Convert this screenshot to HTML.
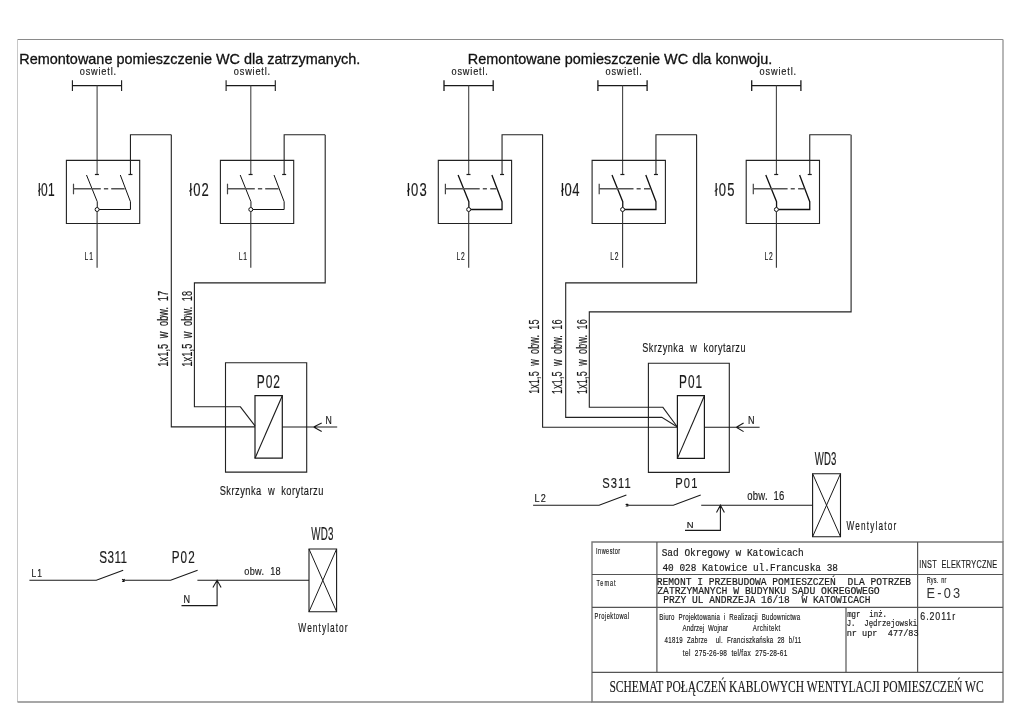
<!DOCTYPE html>
<html><head><meta charset="utf-8">
<style>
html,body{margin:0;padding:0;background:#fff;width:1024px;height:724px;overflow:hidden}
svg{display:block}
svg{filter:grayscale(1)}
.ln{stroke:#222;stroke-width:1;fill:none}
.f_hd{font-family:"Liberation Sans",sans-serif;fill:#111;stroke:#111;stroke-width:0.3px}
.f_cad{font-family:"Liberation Sans",sans-serif;fill:#1a1a1a;stroke:#1a1a1a;stroke-width:0.18px}
.f_mono{font-family:"Liberation Mono",monospace;fill:#1a1a1a;stroke:#1a1a1a;stroke-width:0.2px}
.f_serif{font-family:"Liberation Serif",serif;fill:#1a1a1a;stroke:#1a1a1a;stroke-width:0.15px}
</style></head><body>
<svg width="1024" height="724" viewBox="0 0 1024 724">
<path d="M17.5 39.5H1003" stroke="#8a8a8a" stroke-width="1.2" fill="none" />
<path d="M17.5 39.5V702" stroke="#c8c8c8" stroke-width="1.0" fill="none" />
<path d="M1003 39.5V542" stroke="#999" stroke-width="1.4" fill="none" />
<path d="M17.5 702H592" stroke="#8a8a8a" stroke-width="1.3" fill="none" />
<path d="M72.40 85.6H121.60M72.40 80.3V91M121.60 80.3V91" stroke="#1a1a1a" stroke-width="1.1" fill="none" />
<path d="M97.10 85.6V174.5" stroke="#444" stroke-width="1.1" fill="none" />
<path d="M94.90 174.5H98.90" stroke="#1a1a1a" stroke-width="1.2" fill="none" />
<path d="M130.45 174.5V134.7H171.30" stroke="#222" stroke-width="1.1" fill="none" />
<path d="M128.45 174.5H132.45" stroke="#1a1a1a" stroke-width="1.2" fill="none" />
<path d="M66.40 160.4H139.70V223.5H66.40Z" stroke="#222" stroke-width="1.1" fill="none" />
<path d="M86.50 175L97.25 201.7V207.5" stroke="#111" stroke-width="1.0" fill="none" />
<path d="M120.30 175L130.45 201.7V209.5H99.10" stroke="#111" stroke-width="1.0" fill="none" />
<circle cx="97.10" cy="209.5" r="2" stroke="#111" stroke-width="1" fill="#fff"/>
<path d="M73.50 183.7V194.3" stroke="#444" stroke-width="1.2" fill="none" />
<path d="M73.50 188.8H100.80M103.90 188.8H108.20M111.20 188.8H124.60" stroke="#555" stroke-width="1.5" fill="none" />
<path d="M97.10 211.5V267.8" stroke="#333" stroke-width="1.1" fill="none" />
<path d="M226.10 85.6H275.30M226.10 80.3V91M275.30 80.3V91" stroke="#1a1a1a" stroke-width="1.1" fill="none" />
<path d="M250.80 85.6V174.5" stroke="#444" stroke-width="1.1" fill="none" />
<path d="M248.60 174.5H252.60" stroke="#1a1a1a" stroke-width="1.2" fill="none" />
<path d="M284.15 174.5V134.7H325.00" stroke="#222" stroke-width="1.1" fill="none" />
<path d="M282.15 174.5H286.15" stroke="#1a1a1a" stroke-width="1.2" fill="none" />
<path d="M220.40 160.4H293.70V223.5H220.40Z" stroke="#222" stroke-width="1.1" fill="none" />
<path d="M240.20 175L250.95 201.7V207.5" stroke="#111" stroke-width="1.0" fill="none" />
<path d="M274.00 175L284.15 201.7V209.5H252.80" stroke="#111" stroke-width="1.0" fill="none" />
<circle cx="250.80" cy="209.5" r="2" stroke="#111" stroke-width="1" fill="#fff"/>
<path d="M227.50 183.7V194.3" stroke="#444" stroke-width="1.2" fill="none" />
<path d="M227.50 188.8H254.80M257.90 188.8H262.20M265.20 188.8H278.60" stroke="#555" stroke-width="1.5" fill="none" />
<path d="M250.80 211.5V267.8" stroke="#333" stroke-width="1.1" fill="none" />
<path d="M444.00 85.6H493.20M444.00 80.3V91M493.20 80.3V91" stroke="#1a1a1a" stroke-width="1.3" fill="none" />
<path d="M468.70 85.6V174.5" stroke="#444" stroke-width="1.1" fill="none" />
<path d="M466.50 174.5H470.50" stroke="#1a1a1a" stroke-width="1.2" fill="none" />
<path d="M502.05 174.5V134.7H542.90" stroke="#222" stroke-width="1.1" fill="none" />
<path d="M500.05 174.5H504.05" stroke="#1a1a1a" stroke-width="1.2" fill="none" />
<path d="M438.30 160.4H511.60V223.5H438.30Z" stroke="#222" stroke-width="1.1" fill="none" />
<path d="M458.10 175L468.85 201.7V207.5" stroke="#111" stroke-width="1.3" fill="none" />
<path d="M491.90 175L502.05 201.7V209.5H470.70" stroke="#111" stroke-width="1.3" fill="none" />
<circle cx="468.70" cy="209.5" r="2" stroke="#111" stroke-width="1" fill="#fff"/>
<path d="M445.40 183.7V194.3" stroke="#444" stroke-width="1.2" fill="none" />
<path d="M445.40 188.8H479.70M482.80 188.8H486.90M490.20 188.8H496.50" stroke="#555" stroke-width="1.5" fill="none" />
<path d="M468.70 211.5V267.8" stroke="#333" stroke-width="1.1" fill="none" />
<path d="M597.90 85.6H647.10M597.90 80.3V91M647.10 80.3V91" stroke="#1a1a1a" stroke-width="1.3" fill="none" />
<path d="M622.60 85.6V174.5" stroke="#444" stroke-width="1.1" fill="none" />
<path d="M620.40 174.5H624.40" stroke="#1a1a1a" stroke-width="1.2" fill="none" />
<path d="M655.95 174.5V134.7H696.80" stroke="#222" stroke-width="1.1" fill="none" />
<path d="M653.95 174.5H657.95" stroke="#1a1a1a" stroke-width="1.2" fill="none" />
<path d="M592.10 160.4H665.40V223.5H592.10Z" stroke="#222" stroke-width="1.1" fill="none" />
<path d="M612.00 175L622.75 201.7V207.5" stroke="#111" stroke-width="1.3" fill="none" />
<path d="M645.80 175L655.95 201.7V209.5H624.60" stroke="#111" stroke-width="1.3" fill="none" />
<circle cx="622.60" cy="209.5" r="2" stroke="#111" stroke-width="1" fill="#fff"/>
<path d="M599.20 183.7V194.3" stroke="#444" stroke-width="1.2" fill="none" />
<path d="M599.20 188.8H633.50M636.60 188.8H640.70M644.00 188.8H650.30" stroke="#555" stroke-width="1.5" fill="none" />
<path d="M622.60 211.5V267.8" stroke="#333" stroke-width="1.1" fill="none" />
<path d="M751.70 85.6H800.90M751.70 80.3V91M800.90 80.3V91" stroke="#1a1a1a" stroke-width="1.3" fill="none" />
<path d="M776.40 85.6V174.5" stroke="#444" stroke-width="1.1" fill="none" />
<path d="M774.20 174.5H778.20" stroke="#1a1a1a" stroke-width="1.2" fill="none" />
<path d="M809.75 174.5V134.7H850.60" stroke="#222" stroke-width="1.1" fill="none" />
<path d="M807.75 174.5H811.75" stroke="#1a1a1a" stroke-width="1.2" fill="none" />
<path d="M746.20 160.4H819.50V223.5H746.20Z" stroke="#222" stroke-width="1.1" fill="none" />
<path d="M765.80 175L776.55 201.7V207.5" stroke="#111" stroke-width="1.3" fill="none" />
<path d="M799.60 175L809.75 201.7V209.5H778.40" stroke="#111" stroke-width="1.3" fill="none" />
<circle cx="776.40" cy="209.5" r="2" stroke="#111" stroke-width="1" fill="#fff"/>
<path d="M753.30 183.7V194.3" stroke="#444" stroke-width="1.2" fill="none" />
<path d="M753.30 188.8H787.60M790.70 188.8H794.80M798.10 188.8H804.40" stroke="#555" stroke-width="1.5" fill="none" />
<path d="M776.40 211.5V267.8" stroke="#333" stroke-width="1.1" fill="none" />
<path d="M171.3 134.7V426.9H255" stroke="#222" stroke-width="1.1" fill="none" />
<path d="M325.2 134.7V282.9H194.4V406.8H240.4L255 425.8" stroke="#222" stroke-width="1.1" fill="none" />
<path d="M542.6 134.7V427.3H677.4" stroke="#222" stroke-width="1.1" fill="none" />
<path d="M696.6 134.7V282.9H565.7V417.4H661.8L677.4 427" stroke="#222" stroke-width="1.1" fill="none" />
<path d="M851.1 134.7V311.9H589.3V407.3H662.9L677.4 427" stroke="#222" stroke-width="1.1" fill="none" />
<path d="M225.5 362.8H306.7V472.1H225.5Z" stroke="#222" stroke-width="1.1" fill="none" />
<path d="M255 395.7H282.3V458.2H255Z" stroke="#1a1a1a" stroke-width="1.2" fill="none" />
<path d="M255 458.2L282.3 395.7" stroke="#1a1a1a" stroke-width="1.1" fill="none" />
<path d="M282.3 427H337.2M321.7 423.1L313.6 427L321.7 431.4" stroke="#1a1a1a" stroke-width="1.1" fill="none" />
<path d="M648.4 363.2H729.3V472.4H648.4Z" stroke="#222" stroke-width="1.1" fill="none" />
<path d="M677.4 395.7H704.4V458.4H677.4Z" stroke="#1a1a1a" stroke-width="1.2" fill="none" />
<path d="M677.4 458.4L704.4 395.7" stroke="#1a1a1a" stroke-width="1.1" fill="none" />
<path d="M704.4 427.3H759.6M743.6 423.1L736.3 427.3L743.6 431.6" stroke="#1a1a1a" stroke-width="1.1" fill="none" />
<path d="M29.4 580.3H96.3L123.2 570.2M123.4 580.3H170.6L197.6 570.2M197.4 580.3H309" stroke="#1a1a1a" stroke-width="1.1" fill="none" />
<path d="M122.2 579.1L124.6 581.5M124.6 579.1L122.2 581.5" stroke="#111" stroke-width="1.3" fill="none" />
<path d="M217.1 580.3V605.6H181.5M212.9 587.6L217.1 580.3L221.1 587.6" stroke="#1a1a1a" stroke-width="1.1" fill="none" />
<path d="M309 549H336.6V611.7H309Z" stroke="#1a1a1a" stroke-width="1.1" fill="none" />
<path d="M309 549L336.6 611.7M336.6 549L309 611.7" stroke="#1a1a1a" stroke-width="1.0" fill="none" />
<path d="M533.1 505.2H599.1L626.4 495.1M627 505.2H673.3L700.7 495.1M701.2 505.2H812.6" stroke="#1a1a1a" stroke-width="1.1" fill="none" />
<path d="M625.8 504L628.2 506.4M628.2 504L625.8 506.4" stroke="#111" stroke-width="1.3" fill="none" />
<path d="M720.4 505.2V530.4H685M716.5 512.6L720.4 505.2L724.4 512.6" stroke="#1a1a1a" stroke-width="1.1" fill="none" />
<path d="M812.6 473.7H840.5V536.7H812.6Z" stroke="#1a1a1a" stroke-width="1.1" fill="none" />
<path d="M812.6 473.7L840.5 536.7M840.5 473.7L812.6 536.7" stroke="#1a1a1a" stroke-width="1.0" fill="none" />
<path d="M592 542H1003V702H592Z" stroke="#777" stroke-width="1.4" fill="none" />
<path d="M592 574.5H1003M592 607.3H1003M592 672.3H1003" stroke="#555" stroke-width="1.2" fill="none" />
<path d="M656.9 542V672.3M917.6 542V672.3M846 607.3V672.3" stroke="#555" stroke-width="1.2" fill="none" />
<text id="h1" class="f_hd" style="" x="19.30" y="63.50" font-size="14.33" textLength="341.09" lengthAdjust="spacingAndGlyphs" xml:space="preserve">Remontowane pomieszczenie WC dla zatrzymanych.</text>
<text id="h2" class="f_hd" style="" x="467.72" y="63.50" font-size="14.33" textLength="304.59" lengthAdjust="spacingAndGlyphs" xml:space="preserve">Remontowane pomieszczenie WC dla konwoju.</text>
<text id="osw0" class="f_cad" style="" transform="translate(79.73 74.80) scale(0.900 1)" x="0" y="0" font-size="10.21" textLength="40.38" lengthAdjust="spacing" xml:space="preserve">oswietl.</text>
<text id="lab0" class="f_cad" style="" transform="translate(37.90 196.00) scale(0.625 1)" x="0" y="0" font-size="19.19" textLength="26.89" lengthAdjust="spacing" xml:space="preserve">ł01</text>
<text id="L0" class="f_cad" style="" transform="translate(84.54 260.20) scale(0.631 1)" x="0" y="0" font-size="10.61" textLength="13.25" lengthAdjust="spacing" xml:space="preserve">L1</text>
<text id="osw1" class="f_cad" style="" transform="translate(233.83 74.80) scale(0.900 1)" x="0" y="0" font-size="10.21" textLength="40.33" lengthAdjust="spacing" xml:space="preserve">oswietl.</text>
<text id="lab1" class="f_cad" style="" transform="translate(189.32 196.00) scale(0.680 1)" x="0" y="0" font-size="19.19" textLength="28.44" lengthAdjust="spacing" xml:space="preserve">ł02</text>
<text id="L1" class="f_cad" style="" transform="translate(238.67 260.20) scale(0.631 1)" x="0" y="0" font-size="10.61" textLength="13.10" lengthAdjust="spacing" xml:space="preserve">L1</text>
<text id="osw2" class="f_cad" style="" transform="translate(451.53 74.80) scale(0.900 1)" x="0" y="0" font-size="10.21" textLength="40.34" lengthAdjust="spacing" xml:space="preserve">oswietl.</text>
<text id="lab2" class="f_cad" style="" transform="translate(406.94 196.00) scale(0.680 1)" x="0" y="0" font-size="19.19" textLength="28.97" lengthAdjust="spacing" xml:space="preserve">ł03</text>
<text id="L2" class="f_cad" style="" transform="translate(456.47 260.20) scale(0.631 1)" x="0" y="0" font-size="10.61" textLength="12.92" lengthAdjust="spacing" xml:space="preserve">L2</text>
<text id="osw3" class="f_cad" style="" transform="translate(605.47 74.80) scale(0.900 1)" x="0" y="0" font-size="10.21" textLength="40.43" lengthAdjust="spacing" xml:space="preserve">oswietl.</text>
<text id="lab3" class="f_cad" style="" transform="translate(560.88 196.00) scale(0.680 1)" x="0" y="0" font-size="19.19" textLength="27.50" lengthAdjust="spacing" xml:space="preserve">ł04</text>
<text id="L3" class="f_cad" style="" transform="translate(610.33 260.20) scale(0.631 1)" x="0" y="0" font-size="10.61" textLength="13.02" lengthAdjust="spacing" xml:space="preserve">L2</text>
<text id="osw4" class="f_cad" style="" transform="translate(759.61 74.80) scale(0.900 1)" x="0" y="0" font-size="10.21" textLength="40.56" lengthAdjust="spacing" xml:space="preserve">oswietl.</text>
<text id="lab4" class="f_cad" style="" transform="translate(714.78 196.00) scale(0.680 1)" x="0" y="0" font-size="19.19" textLength="28.99" lengthAdjust="spacing" xml:space="preserve">ł05</text>
<text id="L4" class="f_cad" style="" transform="translate(764.38 260.20) scale(0.631 1)" x="0" y="0" font-size="10.61" textLength="13.41" lengthAdjust="spacing" xml:space="preserve">L2</text>
<text id="v17" class="f_cad" style="" transform="translate(168.10 366.76) rotate(-90) scale(0.657 1)" x="0" y="0" font-size="13.95" textLength="115.35" lengthAdjust="spacing" xml:space="preserve">1x1,5  w  obw.  17</text>
<text id="v18" class="f_cad" style="" transform="translate(191.70 366.76) rotate(-90) scale(0.664 1)" x="0" y="0" font-size="13.81" textLength="114.38" lengthAdjust="spacing" xml:space="preserve">1x1,5  w  obw.  18</text>
<text id="v15" class="f_cad" style="" transform="translate(539.30 393.81) rotate(-90) scale(0.619 1)" x="0" y="0" font-size="14.53" textLength="120.04" lengthAdjust="spacing" xml:space="preserve">1x1,5  w  obw.  15</text>
<text id="v16a" class="f_cad" style="" transform="translate(561.60 393.92) rotate(-90) scale(0.625 1)" x="0" y="0" font-size="14.39" textLength="118.91" lengthAdjust="spacing" xml:space="preserve">1x1,5  w  obw.  16</text>
<text id="v16b" class="f_cad" style="" transform="translate(586.50 393.91) rotate(-90) scale(0.619 1)" x="0" y="0" font-size="14.53" textLength="120.46" lengthAdjust="spacing" xml:space="preserve">1x1,5  w  obw.  16</text>
<text id="p02" class="f_cad" style="" transform="translate(256.82 388.00) scale(0.625 1)" x="0" y="0" font-size="19.19" textLength="37.16" lengthAdjust="spacing" xml:space="preserve">P02</text>
<text id="n1" class="f_cad" style="" x="325.54" y="423.60" font-size="10.17" textLength="6.29" lengthAdjust="spacingAndGlyphs" xml:space="preserve">N</text>
<text id="sk1" class="f_cad" style="" transform="translate(219.63 494.70) scale(0.680 1)" x="0" y="0" font-size="13.66" textLength="152.52" lengthAdjust="spacing" xml:space="preserve">Skrzynka  w  korytarzu</text>
<text id="p01" class="f_cad" style="" transform="translate(679.05 387.70) scale(0.641 1)" x="0" y="0" font-size="18.46" textLength="35.93" lengthAdjust="spacing" xml:space="preserve">P01</text>
<text id="n2" class="f_cad" style="" x="747.88" y="423.80" font-size="10.61" textLength="6.52" lengthAdjust="spacingAndGlyphs" xml:space="preserve">N</text>
<text id="sk2" class="f_cad" style="" transform="translate(642.22 352.10) scale(0.680 1)" x="0" y="0" font-size="13.37" textLength="151.82" lengthAdjust="spacing" xml:space="preserve">Skrzynka  w  korytarzu</text>
<text id="s311a" class="f_cad" style="" transform="translate(99.17 562.90) scale(0.720 1)" x="0" y="0" font-size="16.28" textLength="38.84" lengthAdjust="spacing" xml:space="preserve">S311</text>
<text id="p02b" class="f_cad" style="" transform="translate(171.76 562.90) scale(0.720 1)" x="0" y="0" font-size="16.28" textLength="31.86" lengthAdjust="spacing" xml:space="preserve">P02</text>
<text id="l1b" class="f_cad" style="" transform="translate(31.46 576.60) scale(0.800 1)" x="0" y="0" font-size="10.61" textLength="13.23" lengthAdjust="spacing" xml:space="preserve">L1</text>
<text id="n3" class="f_cad" style="" x="183.52" y="603.00" font-size="10.17" textLength="6.58" lengthAdjust="spacingAndGlyphs" xml:space="preserve">N</text>
<text id="wd3a" class="f_cad" style="" transform="translate(311.23 540.40) scale(0.543 1)" x="0" y="0" font-size="18.02" textLength="40.98" lengthAdjust="spacing" xml:space="preserve">WD3</text>
<text id="obw18" class="f_cad" style="" transform="translate(244.24 574.90) scale(0.800 1)" x="0" y="0" font-size="11.45" textLength="45.59" lengthAdjust="spacing" xml:space="preserve">obw.  18</text>
<text id="went1" class="f_cad" style="" transform="translate(298.35 632.10) scale(0.680 1)" x="0" y="0" font-size="12.35" textLength="72.43" lengthAdjust="spacing" xml:space="preserve">Wentylator</text>
<text id="s311b" class="f_cad" style="" transform="translate(602.30 487.70) scale(0.720 1)" x="0" y="0" font-size="15.55" textLength="39.38" lengthAdjust="spacing" xml:space="preserve">S311</text>
<text id="p01b" class="f_cad" style="" transform="translate(675.25 487.70) scale(0.720 1)" x="0" y="0" font-size="15.55" textLength="30.78" lengthAdjust="spacing" xml:space="preserve">P01</text>
<text id="l2b" class="f_cad" style="" transform="translate(534.40 501.80) scale(0.800 1)" x="0" y="0" font-size="11.34" textLength="14.17" lengthAdjust="spacing" xml:space="preserve">L2</text>
<text id="n4" class="f_cad" style="" x="686.81" y="527.50" font-size="9.01" textLength="6.79" lengthAdjust="spacingAndGlyphs" xml:space="preserve">N</text>
<text id="wd3b" class="f_cad" style="" transform="translate(814.76 465.30) scale(0.535 1)" x="0" y="0" font-size="17.88" textLength="40.49" lengthAdjust="spacing" xml:space="preserve">WD3</text>
<text id="obw16" class="f_cad" style="" transform="translate(747.35 500.20) scale(0.711 1)" x="0" y="0" font-size="13.39" textLength="51.84" lengthAdjust="spacing" xml:space="preserve">obw.  16</text>
<text id="went2" class="f_cad" style="" transform="translate(846.39 529.50) scale(0.680 1)" x="0" y="0" font-size="12.06" textLength="73.16" lengthAdjust="spacing" xml:space="preserve">Wentylator</text>
<text id="inw" class="f_cad" style="" transform="translate(596.12 554.20) scale(0.680 1)" x="0" y="0" font-size="8.14" textLength="35.46" lengthAdjust="spacing" xml:space="preserve">Inwestor</text>
<text id="tem" class="f_cad" style="" transform="translate(596.56 585.60) scale(0.680 1)" x="0" y="0" font-size="8.14" textLength="28.08" lengthAdjust="spacing" xml:space="preserve">Temat</text>
<text id="proj" class="f_cad" style="" transform="translate(594.51 618.60) scale(0.680 1)" x="0" y="0" font-size="8.43" textLength="50.66" lengthAdjust="spacing" xml:space="preserve">Projektowal</text>
<text id="sad" class="f_mono" style="" x="661.69" y="555.80" font-size="10.93" textLength="142.02" lengthAdjust="spacingAndGlyphs" xml:space="preserve">Sad Okregowy w Katowicach</text>
<text id="kat" class="f_mono" style="" x="662.45" y="571.20" font-size="10.93" textLength="175.56" lengthAdjust="spacingAndGlyphs" xml:space="preserve">40 028 Katowice ul.Francuska 38</text>
<text id="rem1" class="f_mono" style="" x="656.78" y="584.80" font-size="11.23" textLength="254.23" lengthAdjust="spacingAndGlyphs" xml:space="preserve">REMONT I PRZEBUDOWA POMIESZCZEŃ  DLA POTRZEB</text>
<text id="rem2" class="f_mono" style="" x="657.18" y="593.90" font-size="11.08" textLength="222.50" lengthAdjust="spacingAndGlyphs" xml:space="preserve">ZATRZYMANYCH W BUDYNKU SĄDU OKREGOWEGO</text>
<text id="rem3" class="f_mono" style="" x="663.15" y="602.90" font-size="10.48" textLength="207.37" lengthAdjust="spacingAndGlyphs" xml:space="preserve">PRZY UL ANDRZEJA 16/18  W KATOWICACH</text>
<text id="inst" class="f_cad" style="" transform="translate(919.29 567.60) scale(0.660 1)" x="0" y="0" font-size="11.05" textLength="117.79" lengthAdjust="spacing" xml:space="preserve">INST  ELEKTRYCZNE</text>
<text id="rys" class="f_cad" style="" transform="translate(926.85 583.10) scale(0.667 1)" x="0" y="0" font-size="8.14" textLength="29.09" lengthAdjust="spacing" xml:space="preserve">Rys.  nr</text>
<text id="e03" class="f_cad" style="stroke-width:0;fill:#333" transform="translate(926.41 597.50) scale(0.880 1)" x="0" y="0" font-size="14.53" textLength="38.28" lengthAdjust="spacing" xml:space="preserve">E-03</text>
<text id="mgr" class="f_mono" style="" x="847.13" y="616.70" font-size="9.65" textLength="39.86" lengthAdjust="spacingAndGlyphs" xml:space="preserve">mgr  inż.</text>
<text id="jj" class="f_mono" style="" x="846.63" y="626.30" font-size="9.87" textLength="70.60" lengthAdjust="spacingAndGlyphs" xml:space="preserve">J.  Jędrzejowski</text>
<text id="upr" class="f_mono" style="" x="846.66" y="636.10" font-size="9.87" textLength="71.96" lengthAdjust="spacingAndGlyphs" xml:space="preserve">nr upr  477/83</text>
<text id="date" class="f_cad" style="" transform="translate(920.31 620.10) scale(0.820 1)" x="0" y="0" font-size="10.76" textLength="42.47" lengthAdjust="spacing" xml:space="preserve">6.2011r</text>
<text id="biuro" class="f_cad" style="" transform="translate(659.28 619.50) scale(0.680 1)" x="0" y="0" font-size="9.01" textLength="207.15" lengthAdjust="spacing" xml:space="preserve">Biuro  Projektowania  i  Realizacji  Budownictwa</text>
<text id="andrz" class="f_cad" style="" transform="translate(682.56 630.80) scale(0.680 1)" x="0" y="0" font-size="9.01" textLength="66.89" lengthAdjust="spacing" xml:space="preserve">Andrzej  Wojnar</text>
<text id="arch" class="f_cad" style="" transform="translate(752.63 630.80) scale(0.680 1)" x="0" y="0" font-size="9.01" textLength="40.56" lengthAdjust="spacing" xml:space="preserve">Architekt</text>
<text id="zab" class="f_cad" style="" transform="translate(664.58 642.50) scale(0.680 1)" x="0" y="0" font-size="9.01" textLength="200.70" lengthAdjust="spacing" xml:space="preserve">41819  Zabrze    ul.  Franciszkańska  28  b/11</text>
<text id="tel" class="f_cad" style="" transform="translate(682.87 656.40) scale(0.680 1)" x="0" y="0" font-size="9.59" textLength="153.55" lengthAdjust="spacing" xml:space="preserve">tel  275-26-98  tel/fax  275-28-61</text>
<text id="schem" class="f_serif" style="" x="609.41" y="691.90" font-size="17.10" textLength="374.18" lengthAdjust="spacingAndGlyphs" xml:space="preserve">SCHEMAT POŁĄCZEŃ KABLOWYCH WENTYLACJI POMIESZCZEŃ WC</text>
</svg>
</body></html>
